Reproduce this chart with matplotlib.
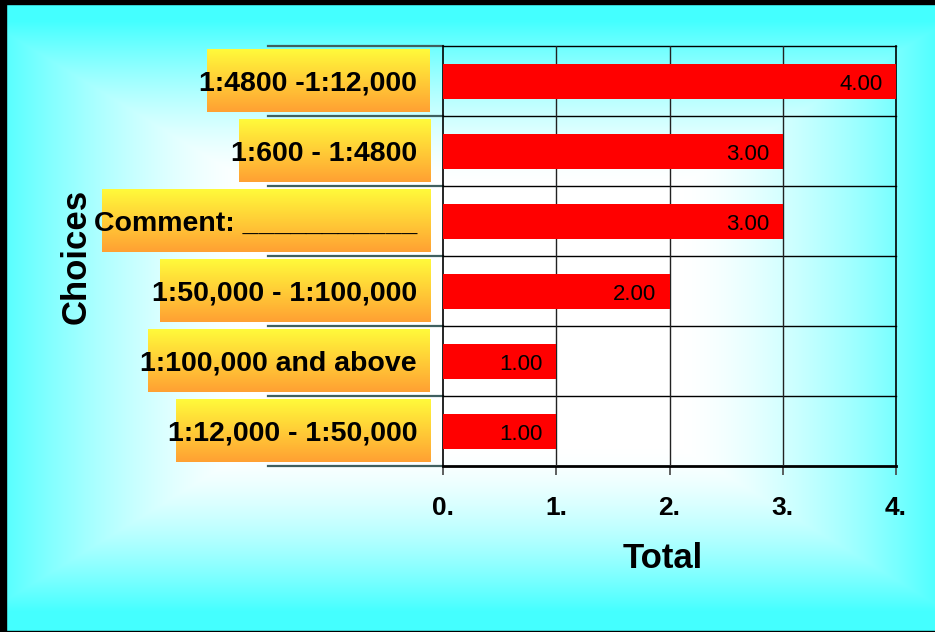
import numpy as np
import matplotlib
matplotlib.use("Agg")
import matplotlib.pyplot as plt
from matplotlib.patches import Rectangle

# =========================
# DATA
# =========================
categories = [
    "1:4800 -1:12,000",
    "1:600 - 1:4800",
    "Comment: ___________",
    "1:50,000 - 1:100,000",
    "1:100,000 and above",
    "1:12,000 - 1:50,000",
]
totals = [4, 3, 3, 2, 1, 1]
tick_values = [0, 1, 2, 3, 4]
tick_labels = ["0.", "1.", "2.", "3.", "4."]

# =========================
# STYLE
# =========================
W, H, DPI = 935, 632, 100
CYAN = np.array([0.27, 1.0, 1.0])
WHITE = np.array([1.0, 1.0, 1.0])
plt.rcParams["font.family"] = ["Liberation Sans", "DejaVu Sans"]

fig = plt.figure(figsize=(W / DPI, H / DPI), dpi=DPI)

# background: rectangular "from centre" gradient, white centre -> cyan edges
bg = fig.add_axes([0, 0, 1, 1], zorder=0)
yy, xx = np.mgrid[0:H, 0:W]
t = np.maximum(np.abs(xx - 467) / 480.0, np.abs(yy - 316) / 295.0)
mix = np.clip((t - 0.45) / 0.55, 0, 1) ** 1.5
img = WHITE[None, None, :] * (1 - mix[..., None]) + CYAN[None, None, :] * mix[..., None]
bg.imshow(img, aspect="auto", extent=[0, 1, 0, 1], origin="upper")
bg.set_axis_off()

# frame
fig.patches.append(Rectangle((0, 0), 6 / W, 1, transform=fig.transFigure, color="black", zorder=5))
fig.patches.append(Rectangle((0, 1 - 4 / H), 1, 4 / H, transform=fig.transFigure, color="black", zorder=5))
fig.patches.append(Rectangle((0, 0), 1, 1.5 / H, transform=fig.transFigure, color="black", zorder=5))

# =========================
# MAIN AXES
# =========================
x0px, x1px, ytop, ybot = 443, 896, 46, 466
ax = fig.add_axes([x0px / W, (H - ybot) / H, (x1px - x0px) / W, (ybot - ytop) / H], zorder=2)
ax.patch.set_alpha(0)
ax.set_xlim(0, 4)
ax.set_ylim(len(categories) - 0.5, -0.5)

rows = np.arange(len(categories))
ax.barh(rows, totals, height=0.5, color="#FF0000", edgecolor="none", zorder=3)

for i, v in enumerate(totals):
    ax.annotate(f"{v:.2f}", xy=(v, i), xytext=(-9.5, -2.5), textcoords="offset points",
                ha="right", va="center", fontsize=16, zorder=4)

# grid and separators
px_per_unit = (x1px - x0px) / 4.0
left_ext = (268 - x0px) / px_per_unit
for b in np.arange(-0.5, len(categories), 1.0):
    lw = 2 if b == len(categories) - 0.5 else 1
    ax.plot([left_ext, 0], [b, b], color="#3f5f5f", lw=1.6, clip_on=False, zorder=2)
    ax.plot([0, 4], [b, b], color="black", lw=lw, clip_on=False, zorder=2)
for xv in [1, 2, 3]:
    ax.axvline(xv, color="#222222", lw=1, zorder=2)
for s in ["top", "bottom"]:
    ax.spines[s].set_visible(False)
ax.spines["left"].set_linewidth(1.2)
ax.spines["right"].set_linewidth(1.2)

ax.set_yticks([])
ax.set_xticks(tick_values)
ax.set_xticklabels(tick_labels, fontsize=19, fontweight="bold")
ax.tick_params(axis="x", direction="out", length=6.5, width=1.2, color="#444444", pad=15)

ax.set_xlabel("Total", fontsize=25, fontweight="bold")
ax.xaxis.label.set_va("center")
ax.xaxis.set_label_coords((663 - x0px) / (x1px - x0px), -(559 - ybot) / (ybot - ytop))
ax.set_ylabel("Choices", fontsize=25, fontweight="bold")
ax.yaxis.label.set_va("center")
ax.yaxis.set_label_coords((76 - x0px) / (x1px - x0px), 0.5)

# category labels on yellow/orange gradient boxes
text_right = (417 - x0px) / px_per_unit
box_right = (430 - x0px) / px_per_unit
grad = np.linspace(0, 1, 64)[:, None]
top_c = np.array([1.0, 0.98, 0.23])
bot_c = np.array([1.0, 0.63, 0.2])
box_img = (top_c[None, None, :] * (1 - grad[..., None]) + bot_c[None, None, :] * grad[..., None])
box_img = np.repeat(box_img, 2, axis=1)

renderer = fig.canvas.get_renderer()
for i, name in enumerate(categories):
    txt = ax.text(text_right, i + 0.04, name, ha="right", va="center", fontsize=20.5,
                  fontweight="bold", clip_on=False, zorder=5)
    bb = txt.get_window_extent(renderer)
    bl = (bb.x0 + 8 - x0px) / px_per_unit
    im = ax.imshow(box_img, extent=[bl, box_right, i + 0.45, i - 0.44],
                   aspect="auto", zorder=1, interpolation="bilinear")
    im.set_clip_on(False)

ax.set_xlim(0, 4)
ax.set_ylim(len(categories) - 0.5, -0.5)

fig.savefig("out.png", dpi=DPI)
